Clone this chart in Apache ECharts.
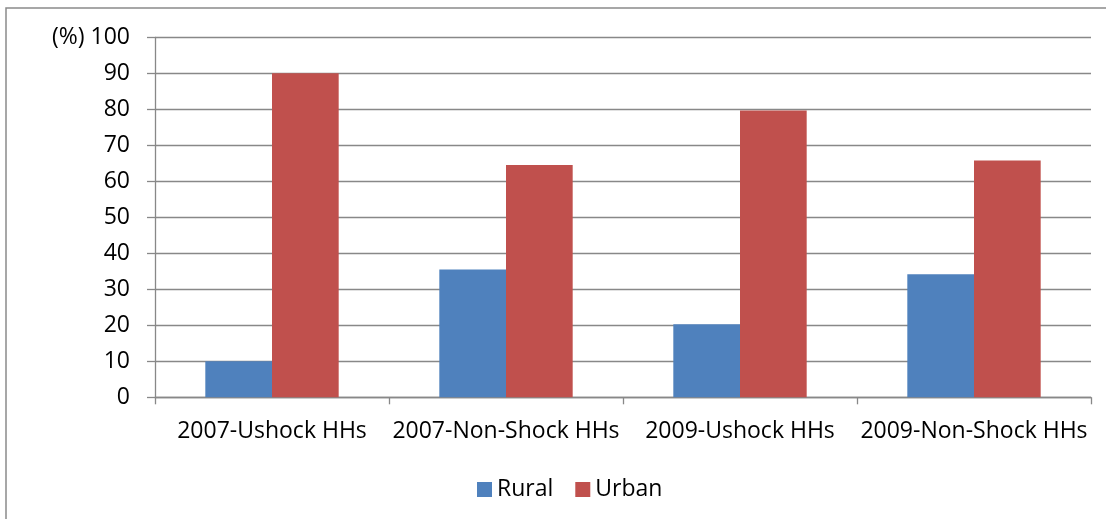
<!DOCTYPE html>
<html>
<head>
<meta charset="utf-8">
<title>Rural / Urban</title>
<script src="https://cdn.jsdelivr.net/npm/echarts@6/dist/echarts.min.js"></script>
<style>
    html, body { margin: 0; padding: 0; background: #fff; }
    #main { width: 1106px; height: 519px; }
</style>
</head>
<body>
<div id="main"></div>
<script>
// data
var categories = ['2007-Ushock HHs', '2007-Non-Shock HHs', '2009-Ushock HHs', '2009-Non-Shock HHs'];
var rural = [10, 35.5, 20.3, 34.2];
var urban = [90, 64.5, 79.7, 65.8];
var seriesNames = ['Rural', 'Urban'];
var unitLabel = '(%)';

//柱状图
function createBar(id) {
    var myChartBar = echarts.init(document.getElementById(id));
    var font = 'Open Sans';
    var optionBar = {
        animation: false,
        textStyle: { fontFamily: font },
        graphic: [
            // outer frame of the figure, cut off at right and bottom
            {
                type: 'rect',
                shape: { x: 6, y: 8, width: 1200, height: 600 },
                style: { fill: 'none', stroke: '#8a8a8a', lineWidth: 1.5 }
            },
            // unit label left of the top tick
            {
                type: 'text',
                x: 52,
                y: 37,
                style: {
                    text: unitLabel, fill: '#000', fontSize: 23, fontFamily: font,
                    verticalAlign: 'middle', align: 'left'
                }
            }
        ],
        legend: {
            data: seriesNames,
            left: 472,
            top: 473,
            itemWidth: 15,
            itemHeight: 15,
            itemGap: 22,
            icon: 'rect',
            textStyle: { fontFamily: font, fontSize: 23, color: '#000' }
        },
        grid: {
            left: 155,
            right: 15,
            top: 37.3,
            bottom: 121.7,
            containLabel: false
        },
        xAxis: {
            type: 'category',
            data: categories,
            axisLine: { lineStyle: { color: '#888', width: 1.3 } },
            axisTick: { show: true, length: 7, lineStyle: { color: '#888', width: 1.3 } },
            axisLabel: { color: '#000', fontSize: 23, margin: 23, interval: 0 }
        },
        yAxis: {
            type: 'value',
            min: 0,
            max: 100,
            interval: 10,
            axisLine: { show: true, lineStyle: { color: '#888', width: 1.3 } },
            axisTick: { show: true, length: 8, lineStyle: { color: '#888', width: 1.3 } },
            axisLabel: { color: '#000', fontSize: 23, margin: 25 },
            splitLine: { lineStyle: { color: '#888', width: 1.3 } }
        },
        series: [
            {
                name: seriesNames[0],
                type: 'bar',
                data: rural,
                barGap: '0%',
                barCategoryGap: '43%',
                itemStyle: { color: '#4F81BD' }
            },
            {
                name: seriesNames[1],
                type: 'bar',
                data: urban,
                itemStyle: { color: '#C0504D' }
            }
        ]
    };
    myChartBar.setOption(optionBar);
}

createBar('main');
</script>
</body>
</html>
